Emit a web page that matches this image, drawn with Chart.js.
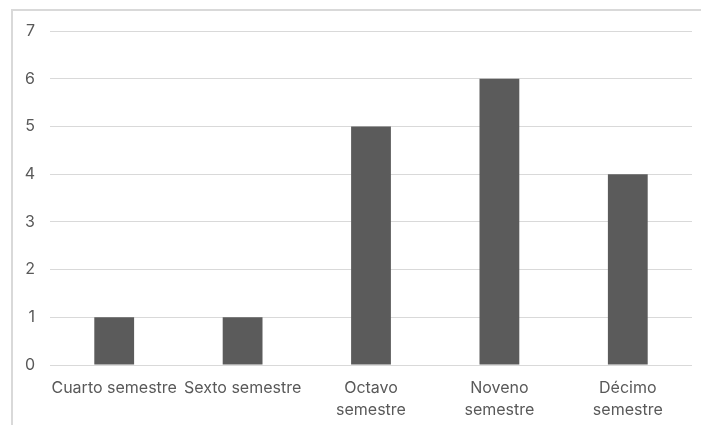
<!DOCTYPE html>
<html>
<head>
<meta charset="utf-8">
<script src="https://cdn.jsdelivr.net/npm/chart.js@4/dist/chart.umd.min.js"></script>
<style>
  html, body { margin: 0; padding: 0; background: #ffffff; }
  #wrap { position: relative; width: 701px; height: 425px; overflow: hidden; }
  #frame { position: absolute; left: 11px; top: 9px; width: 720px; height: 440px;
           border-left: 2px solid #d9d9d9; border-top: 2px solid #d9d9d9; }
  canvas { position: absolute; left: 0; top: 0; }
</style>
</head>
<body>
<div id="wrap">
  <div id="frame"></div>
  <canvas id="c" width="701" height="425"></canvas>
</div>
<script>
const categories = ['Cuarto semestre', 'Sexto semestre', ['Octavo', 'semestre'], ['Noveno', 'semestre'], ['Décimo', 'semestre']];
const values = [1, 1, 5, 6, 4];
const yTicks = [0, 1, 2, 3, 4, 5, 6, 7];

const FONT = { family: "Inter, sans-serif", size: 16, lineHeight: 1.375 };

new Chart(document.getElementById('c'), {
  type: 'bar',
  data: {
    labels: categories,
    datasets: [{
      data: values,
      backgroundColor: '#5b5b5b',
      borderWidth: 0,
      barPercentage: 0.31,
      categoryPercentage: 1.0
    }]
  },
  options: {
    responsive: false,
    animation: false,
    devicePixelRatio: 1,
    layout: { padding: { left: 0, right: 9, top: 31, bottom: 0 } },
    plugins: { legend: { display: false }, tooltip: { enabled: false } },
    scales: {
      x: {
        grid: { display: false, drawTicks: false },
        border: { display: false },
        ticks: { color: '#595959', font: FONT, maxRotation: 0, autoSkip: false, padding: 12 },
        afterFit: (s) => { s.height = 60; }
      },
      y: {
        min: 0, max: 7,
        afterBuildTicks: (s) => { s.ticks = yTicks.map(v => ({ value: v })); },
        grid: { color: '#d9d9d9', lineWidth: 1, drawTicks: false },
        border: { display: false },
        ticks: { color: '#595959', font: { family: "Inter, sans-serif", size: 16 }, padding: 15 },
        afterFit: (s) => { s.width = 50; }
      }
    }
  }
});
</script>
</body>
</html>
